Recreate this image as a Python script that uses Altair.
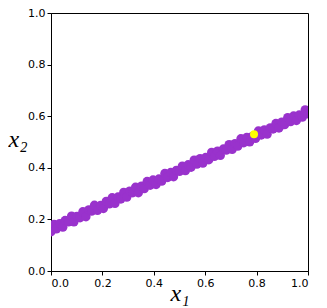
import altair as alt
import pandas as pd

# data
x_vals = [0.000, 0.012, 0.021, 0.034, 0.046, 0.055, 0.068, 0.080, 0.089, 0.101,
          0.113, 0.124, 0.136, 0.147, 0.158, 0.169, 0.181, 0.193, 0.204, 0.215,
          0.227, 0.238, 0.249, 0.261, 0.272, 0.283, 0.295, 0.306, 0.318, 0.329,
          0.340, 0.352, 0.363, 0.374, 0.386, 0.397, 0.409, 0.420, 0.431, 0.443,
          0.454, 0.466, 0.477, 0.488, 0.500, 0.511, 0.523, 0.534, 0.545, 0.557,
          0.568, 0.580, 0.591, 0.602, 0.614, 0.625, 0.636, 0.648, 0.659, 0.671,
          0.682, 0.693, 0.705, 0.716, 0.727, 0.739, 0.750, 0.762, 0.773, 0.784,
          0.796, 0.807, 0.818, 0.830, 0.841, 0.853, 0.864, 0.875, 0.887, 0.898,
          0.909, 0.921, 0.932, 0.944, 0.955, 0.966, 0.978, 0.989, 1.000]
y_vals = [0.152, 0.181, 0.163, 0.184, 0.170, 0.196, 0.190, 0.213, 0.190, 0.212,
          0.206, 0.230, 0.210, 0.237, 0.232, 0.255, 0.235, 0.254, 0.242, 0.270,
          0.260, 0.284, 0.262, 0.287, 0.279, 0.305, 0.286, 0.310, 0.303, 0.325,
          0.303, 0.329, 0.319, 0.347, 0.332, 0.353, 0.335, 0.357, 0.348, 0.378,
          0.362, 0.382, 0.365, 0.390, 0.386, 0.407, 0.389, 0.412, 0.402, 0.430,
          0.414, 0.436, 0.418, 0.440, 0.431, 0.460, 0.444, 0.465, 0.448, 0.473,
          0.468, 0.490, 0.471, 0.494, 0.484, 0.513, 0.497, 0.518, 0.500, 0.522,
          0.514, 0.543, 0.527, 0.547, 0.530, 0.555, 0.550, 0.572, 0.554, 0.577,
          0.567, 0.595, 0.579, 0.601, 0.583, 0.605, 0.596, 0.625, 0.609]
highlight_x = [0.79]
highlight_y = [0.53]
tick_values = [0.0, 0.2, 0.4, 0.6, 0.8, 1.0]

df = pd.DataFrame({"x": x_vals, "y": y_vals})
hl = pd.DataFrame({"x": highlight_x, "y": highlight_y})

xscale = alt.Scale(domain=[0, 1], nice=False)
yscale = alt.Scale(domain=[0, 1], nice=False)

xaxis = alt.Axis(values=tick_values, format=".1f", title="x₁", grid=False,
                 titleY=29, titleBaseline="alphabetic")
yaxis = alt.Axis(values=tick_values, format=".1f", title="x₂", grid=False,
                 titleAngle=0, titleX=-43, titleY=133, titleAlign="left",
                 titleBaseline="alphabetic")

base = alt.Chart(df).mark_circle(size=85, color="#9932CC", opacity=1,
                                 clip=True).encode(
    x=alt.X("x:Q", scale=xscale, axis=xaxis),
    y=alt.Y("y:Q", scale=yscale, axis=yaxis),
)

hl_layer = alt.Chart(hl).mark_circle(size=64, color="#FFFF00", opacity=1,
                                     clip=True).encode(
    x=alt.X("x:Q", scale=xscale),
    y=alt.Y("y:Q", scale=yscale),
)

chart = alt.layer(base, hl_layer).properties(
    width=257, height=258,
    autosize=alt.AutoSizeParams(type="none"),
    padding={"left": 43, "top": 5, "right": 11, "bottom": 35},
).configure_view(
    stroke="black", strokeWidth=1
).configure_axis(
    domainColor="black", tickColor="black", tickSize=4,
    labelFont="DejaVu Sans", labelFontSize=11, labelColor="black", labelPadding=2,
    titleFont="Liberation Serif", titleFontStyle="italic", titleFontWeight="normal",
    titleFontSize=24, titleColor="black",
)

chart.save("out.html", embed_options={"renderer": "svg", "actions": False})
